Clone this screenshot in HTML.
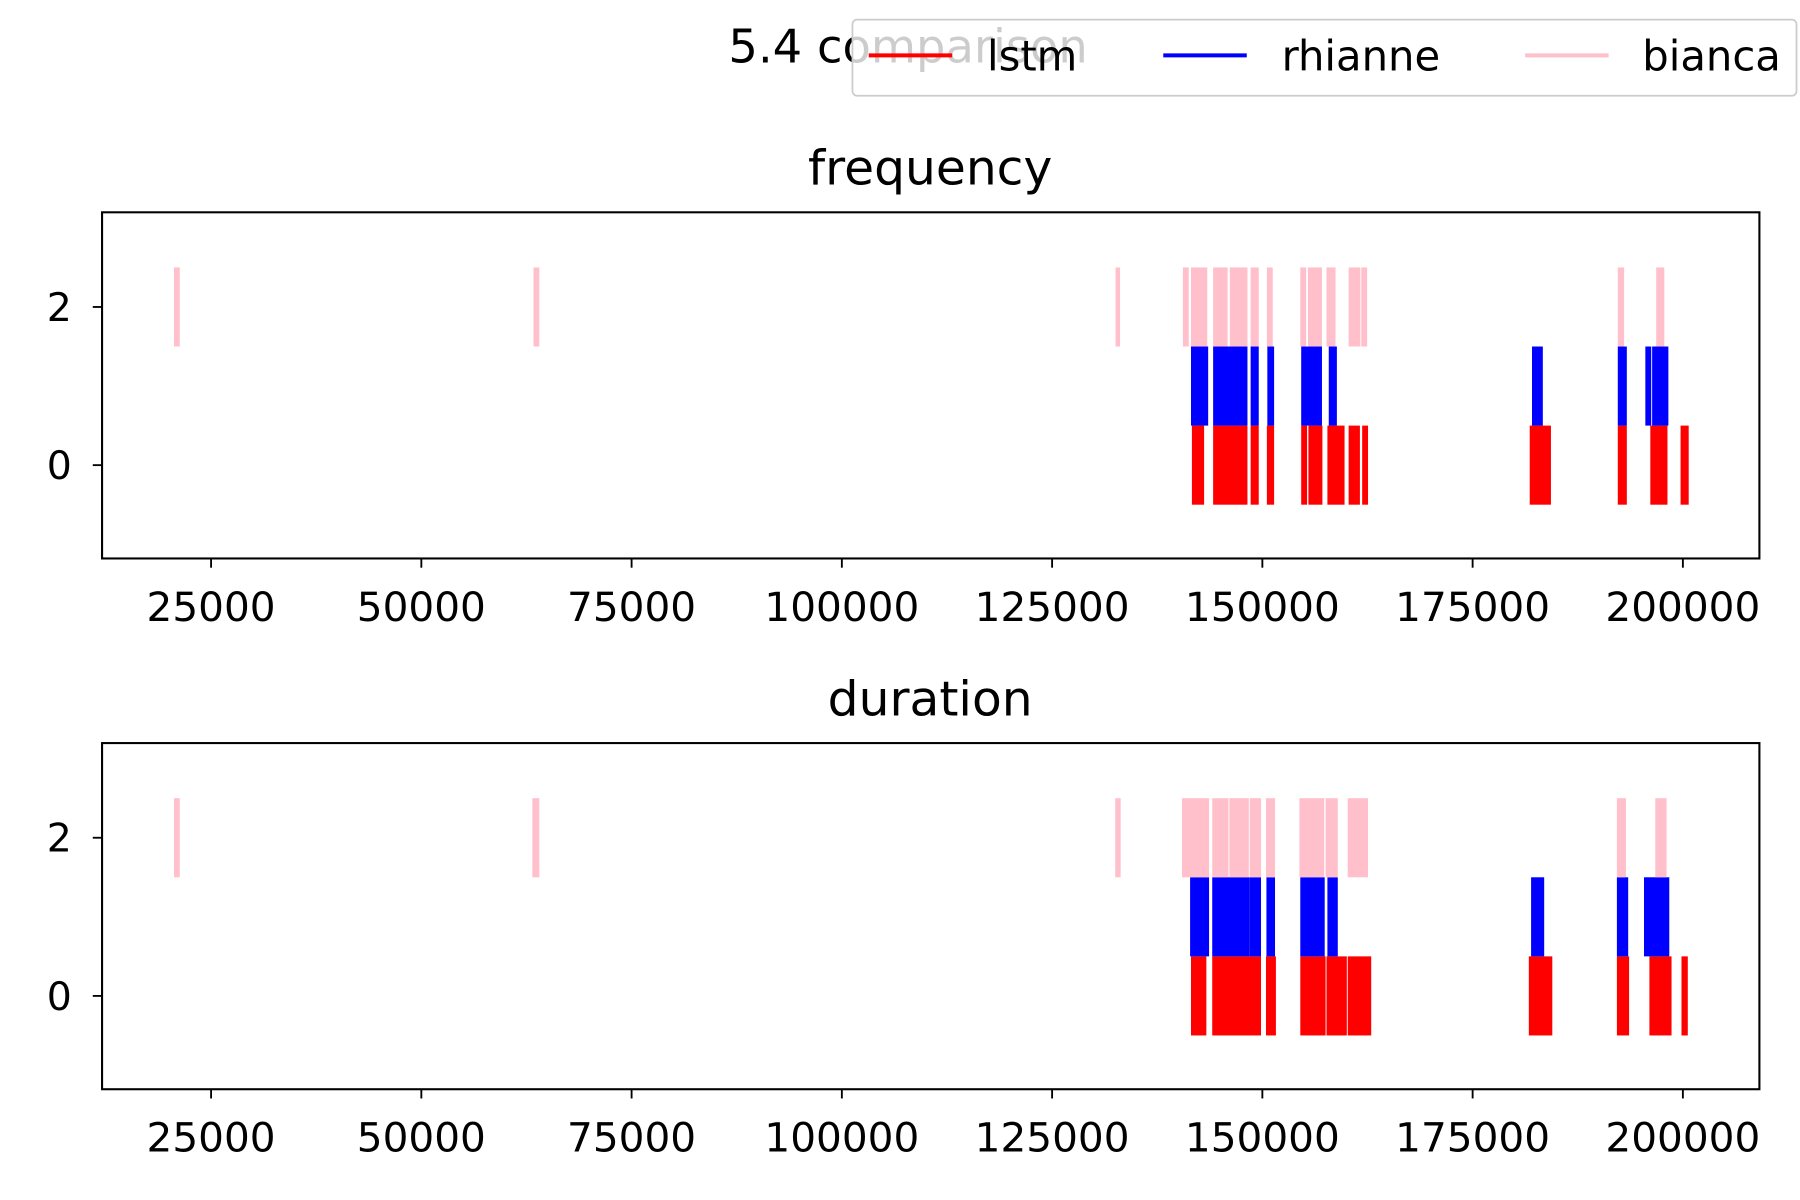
<!DOCTYPE html>
<html><head><meta charset="utf-8"><style>
html,body{margin:0;padding:0;background:#fff;}
svg{display:block;font-family:"DejaVu Sans","Liberation Sans",sans-serif;}
</style></head><body>
<svg id="chart" width="1800" height="1200" viewBox="0 0 1552 1040" preserveAspectRatio="none" xmlns="http://www.w3.org/2000/svg">
<text x="783" y="54" font-size="40" text-anchor="middle" fill="#000">5.4 comparison</text>
<g id="panels"></g>
<g>
<rect x="735" y="17" width="814" height="66" rx="4" fill="#fff" fill-opacity="0.8" stroke="#ccc" stroke-width="1.5"/>
<g><line x1="749" y1="48" x2="821" y2="48" stroke="red" stroke-width="3.5"/><text x="851" y="61" font-size="36">lstm</text></g>
<g><line x1="1003" y1="48" x2="1075" y2="48" stroke="blue" stroke-width="3.5"/><text x="1105" y="61" font-size="36">rhianne</text></g>
<g><line x1="1315" y1="48" x2="1387" y2="48" stroke="pink" stroke-width="3.5"/><text x="1416" y="61" font-size="36">bianca</text></g>
</g>
</svg>
<script>
const xTicks = [25000, 50000, 75000, 100000, 125000, 150000, 175000, 200000];
const yTicks = [0, 2];
const panelTitles = ["frequency", "duration"];
const seriesNames = ["lstm", "rhianne", "bianca"];
const seriesRows = [0, 1, 2];
// [start, end] intervals
const freqLstm = [[141622,143072],[144146,148228],[148604,149570],[150537,151396],[154618,155316],[155477,157142],[157733,159773],[160257,161599],[161868,162566],[181790,184314],[192262,193336],[196128,198168],[199725,200692]];
const freqRhianne = [[141515,143556],[144146,148228],[148604,149570],[150591,151396],[154618,157088],[157894,158860],[182059,183348],[192262,193336],[195538,196236],[196343,198276]];
const freqBianca = [[20588,21278],[63340,64030],[132545,133082],[140548,141247],[141515,143448],[144146,145865],[146133,148228],[148604,149570],[150537,151235],[154511,155209],[155424,157088],[157625,158699],[160257,161653],[161760,162458],[192262,193014],[196826,197793]];
const durLstm = [[141515,143341],[144039,149839],[150430,151611],[154511,157518],[157625,160042],[160149,162942],[181683,184475],[192155,193604],[196021,198652],[199834,200585]];
const durRhianne = [[141408,143663],[144039,148443],[148443,149839],[150483,151504],[154511,157411],[157733,158968],[181952,183509],[192155,193498],[195377,198384]];
const durBianca = [[20588,21278],[63200,64030],[132500,133150],[140441,143663],[144039,145973],[146080,148389],[148496,149839],[150430,151504],[154403,157357],[157518,158968],[160149,162566],[192155,193229],[196719,198061]];

const NS = "http://www.w3.org/2000/svg";
const colors = ["red", "blue", "pink"];
const X0 = 88, X1 = 1517, XMIN = 12037, XMAX = 209100;
const YMIN = -1.18, YMAX = 3.197;
const panelTops = [184, 644];
const PH = 300;
const panelData = [[freqLstm, freqRhianne, freqBianca], [durLstm, durRhianne, durBianca]];
function xs(v){ return X0 + (v - XMIN) / (XMAX - XMIN) * (X1 - X0); }
function mk(tag, attrs, parent){ const e = document.createElementNS(NS, tag); for (const k in attrs) e.setAttribute(k, attrs[k]); parent.appendChild(e); return e; }
const root = document.getElementById("panels");
panelTitles.forEach((title, p) => {
  const top = panelTops[p];
  const ys = v => top + (YMAX - v) / (YMAX - YMIN) * PH;
  const g = mk("g", {}, root);
  
  
  const t = mk("text", {x: 802, y: top - 24, "font-size": 42, "text-anchor": "middle"}, g);
  t.textContent = title;
  
  
  panelData[p].forEach((ser, si) => {
    const row = seriesRows[si];
    ser.forEach(iv => {
      const r = mk("rect", {x: xs(iv[0]), y: ys(row + 0.5), width: Math.max(0.5, xs(iv[1]) - xs(iv[0])), height: ys(row - 0.5) - ys(row + 0.5), fill: colors[si]}, g);
      
      
    });
  });
  const frame = mk("rect", {x: X0, y: top, width: X1 - X0, height: PH, fill: "none", stroke: "#000", "stroke-width": 1.8}, g);
  
  
  xTicks.forEach(v => {
    const x = xs(v);
    mk("line", {x1: x, y1: top + PH, x2: x, y2: top + PH + 8, stroke: "#000", "stroke-width": 1.6}, g);
    const tl = mk("text", {x: x, y: top + PH + 54, "font-size": 35, "text-anchor": "middle"}, g);
    tl.textContent = String(v);
    
    
  });
  yTicks.forEach(v => {
    const y = ys(v);
    mk("line", {x1: X0 - 8, y1: y, x2: X0, y2: y, stroke: "#000", "stroke-width": 1.6}, g);
    const tl = mk("text", {x: X0 - 26, y: y + 12, "font-size": 34, "text-anchor": "end"}, g);
    tl.textContent = String(v);
    
    
  });
});
</script>
</body></html>
